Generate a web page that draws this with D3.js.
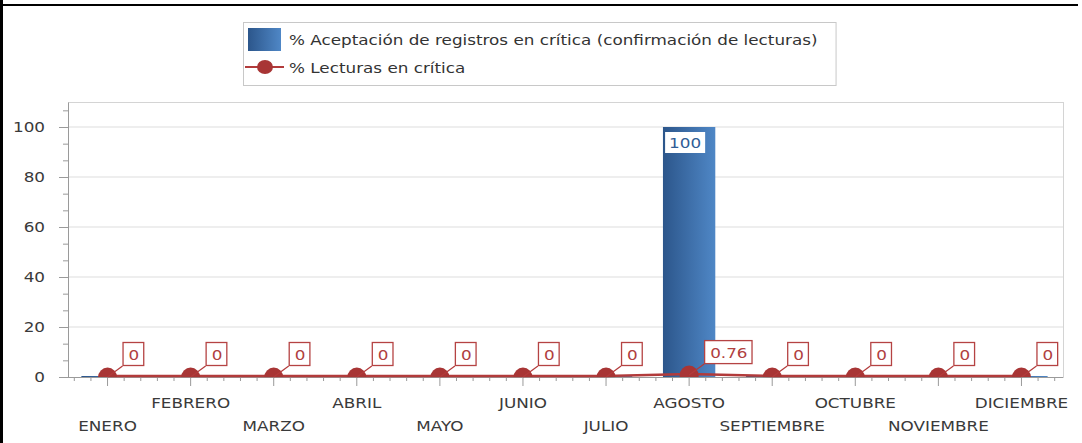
<!DOCTYPE html>
<html>
<head>
<meta charset="utf-8">
<script src="https://cdn.jsdelivr.net/npm/d3@7/dist/d3.min.js"></script>
<style>
body{margin:0;background:#fff;}
svg text{font-family:"DejaVu Sans",sans-serif;}
</style>
</head>
<body>
<div id="canvas" class="canvas" style="width:1082px;height:443px"></div>
<script>
var months = ['ENERO','FEBRERO','MARZO','ABRIL','MAYO','JUNIO','JULIO','AGOSTO','SEPTIEMBRE','OCTUBRE','NOVIEMBRE','DICIEMBRE'];
var aceptacion = [0,0,0,0,0,0,0,100,0,0,0,0];
var lecturas = [0,0,0,0,0,0,0,0.76,0,0,0,0];
var yTicks = [0,20,40,60,80,100];
var seriesNames = ['% Aceptación de registros en crítica (confirmación de lecturas)','% Lecturas en crítica'];

var W = 1082, H = 443,
    m = {t:102, r:19, b:66, l:68},
    sx = 1.2; // the original render is stretched sideways

var svg = d3.select('.canvas').append('svg')
    .attr('width', W).attr('height', H);

var defs = svg.append('defs');
var grad = defs.append('linearGradient').attr('id','barGrad')
    .attr('x1','0').attr('x2','1').attr('y1','0').attr('y2','0');
grad.append('stop').attr('offset','0%').attr('stop-color','#2c568b');
grad.append('stop').attr('offset','100%').attr('stop-color','#4f87c6');
defs.append('clipPath').attr('id','plotClip').append('rect')
    .attr('x', m.l).attr('y', m.t).attr('width', W - m.r - m.l).attr('height', H - m.b - m.t);

// outer frame bits
svg.append('rect').attr('x',0).attr('y',0).attr('width',3).attr('height',H).attr('fill','#000');
svg.append('rect').attr('x',0).attr('y',4).attr('width',1078).attr('height',2).attr('fill','#000');

var x = d3.scaleBand().domain(months).range([66, W - m.r]);
var y = d3.scaleLinear().domain([0,110]).range([H - m.b, m.t]);
var cx = function(d){ return x(d) + x.bandwidth()/2; };

// gridlines
svg.append('g').selectAll('line').data(yTicks.slice(1)).enter().append('line')
    .attr('x1', m.l).attr('x2', W - m.r)
    .attr('y1', function(d){ return y(d); }).attr('y2', function(d){ return y(d); })
    .attr('stroke','#dedede').attr('stroke-width',1.2);

// plot frame
svg.append('rect').attr('x', m.l + 0.5).attr('y', m.t + 0.5)
    .attr('width', W - m.r - m.l).attr('height', H - m.b - m.t)
    .attr('fill','none').attr('stroke','#d4d4d4');

// y axis
var yMinor = d3.range(0, 111, 20/3);
svg.append('g').attr('transform','translate('+m.l+',0)')
    .call(d3.axisLeft(y).tickValues(yMinor).tickSize(5).tickFormat(''))
    .call(function(g){ g.select('.domain').remove(); g.selectAll('line').attr('stroke','#9a9a9a'); });
svg.append('g').attr('transform','translate('+m.l+',0)')
    .call(d3.axisLeft(y).tickValues(yTicks).tickSize(9).tickFormat('').tickSizeOuter(0))
    .call(function(g){ g.selectAll('line, path').attr('stroke','#9a9a9a'); });
svg.append('g').selectAll('text').data(yTicks).enter().append('text')
    .attr('transform', function(d){ return 'translate(45,'+(y(d)+5)+') scale('+sx+',1)'; })
    .attr('text-anchor','end').attr('font-size',14).attr('fill','#3a3a3a')
    .text(function(d){ return d; });

// bars
svg.append('g').selectAll('rect').data(aceptacion).enter().append('rect')
    .attr('x', function(d,i){ return cx(months[i]) - x.bandwidth()*0.315; })
    .attr('width', x.bandwidth()*0.63)
    .attr('y', function(d){ return Math.min(y(d), y(0) - 1); })
    .attr('height', function(d){ return Math.max(1, y(0) - y(d)); })
    .attr('fill','url(#barGrad)');

// x axis
var xMinor = [];
months.forEach(function(mo){
    for (var k = -2; k <= 2; k++) if (k) xMinor.push(cx(mo) + k * x.bandwidth()/5);
});
svg.append('g').selectAll('line').data(xMinor).enter().append('line')
    .attr('x1', function(d){ return d; }).attr('x2', function(d){ return d; })
    .attr('y1', y(0)).attr('y2', y(0) + 4)
    .attr('stroke','#9a9a9a');
svg.append('g').attr('transform','translate(0,'+y(0)+')')
    .call(d3.axisBottom(x).tickSize(9).tickFormat('').tickSizeOuter(0))
    .call(function(g){
        g.select('.domain').attr('d','M'+m.l+',0.5H'+(W - m.r)).attr('stroke','#9a9a9a');
        g.selectAll('line').attr('stroke','#9a9a9a');
    });
svg.append('g').selectAll('text').data(months).enter().append('text')
    .attr('transform', function(d,i){ return 'translate('+cx(d)+','+(i % 2 ? 408 : 431)+') scale('+sx+',1)'; })
    .attr('text-anchor','middle').attr('font-size',14).attr('fill','#3a3a3a')
    .text(function(d){ return d; });

// line series
var line = d3.line()
    .x(function(d,i){ return cx(months[i]); })
    .y(function(d){ return y(d) - 1; });
svg.append('path').datum(lecturas).attr('d', line)
    .attr('fill','none').attr('stroke','#b23b3b').attr('stroke-width',2.5);
svg.append('g').attr('clip-path','url(#plotClip)')
    .selectAll('ellipse').data(lecturas).enter().append('ellipse')
    .attr('cx', function(d,i){ return cx(months[i]); })
    .attr('cy', function(d){ return y(d) + 0.5; })
    .attr('rx', 9.5).attr('ry', 10)
    .attr('fill','#a83535');

// point labels
var pl = svg.append('g').selectAll('g').data(lecturas).enter().append('g')
    .attr('transform', function(d,i){ return 'translate('+cx(months[i])+','+y(d)+')'; });
pl.append('line').attr('x1',0).attr('y1',0).attr('x2',15).attr('y2',-11)
    .attr('stroke','#b23b3b').attr('stroke-width',1.2);
pl.append('rect').attr('x',15.5).attr('y',-34.5).attr('height',23)
    .attr('fill','#fff').attr('stroke','#b54343').attr('stroke-width',1.3);
pl.append('text').attr('transform','translate(21,-17) scale('+sx+',1)')
    .attr('font-size',14).attr('fill','#b04040')
    .text(function(d){ return d; })
    .each(function(){ var w = this.getComputedTextLength()*sx; d3.select(this.parentNode).select('rect').attr('width', w + 10); });

// bar labels
var bl = svg.append('g').selectAll('g').data(aceptacion.filter(function(d){ return d > 0; })).enter().append('g')
    .attr('transform', function(d){ var i = aceptacion.indexOf(d); return 'translate('+cx(months[i])+','+y(d)+')'; });
bl.append('rect').attr('y',5).attr('height',21).attr('fill','#fff');
bl.append('text').attr('transform','translate(-4,21) scale('+sx+',1)')
    .attr('text-anchor','middle').attr('font-size',14).attr('fill','#2f5d96')
    .text(function(d){ return d; })
    .each(function(){ var w = this.getComputedTextLength()*sx; d3.select(this.parentNode).select('rect').attr('x', -4 - w/2 - 4).attr('width', w + 8); });

// legend
var lg = svg.append('g');
var lgBox = lg.append('rect').attr('x',243.5).attr('y',22.5).attr('height',63)
    .attr('fill','#fff').attr('stroke','#c8c8c8');
lg.append('rect').attr('x',248).attr('y',28).attr('width',33).attr('height',23).attr('fill','url(#barGrad)');
lg.append('line').attr('x1',245).attr('x2',284).attr('y1',67).attr('y2',67).attr('stroke','#b23b3b').attr('stroke-width',2);
lg.append('ellipse').attr('cx',265).attr('cy',67).attr('rx',8).attr('ry',7).attr('fill','#a83535');
var maxW = 0;
lg.selectAll('text').data(seriesNames).enter().append('text')
    .attr('transform', function(d,i){ return 'translate(289,'+(45 + i*28)+') scale('+sx+',1)'; })
    .attr('font-size',14).attr('fill','#333')
    .text(function(d){ return d; })
    .each(function(){ maxW = Math.max(maxW, this.getComputedTextLength()*sx); });
lgBox.attr('width', 289 + maxW + 18 - 243);
</script>
</body>
</html>
